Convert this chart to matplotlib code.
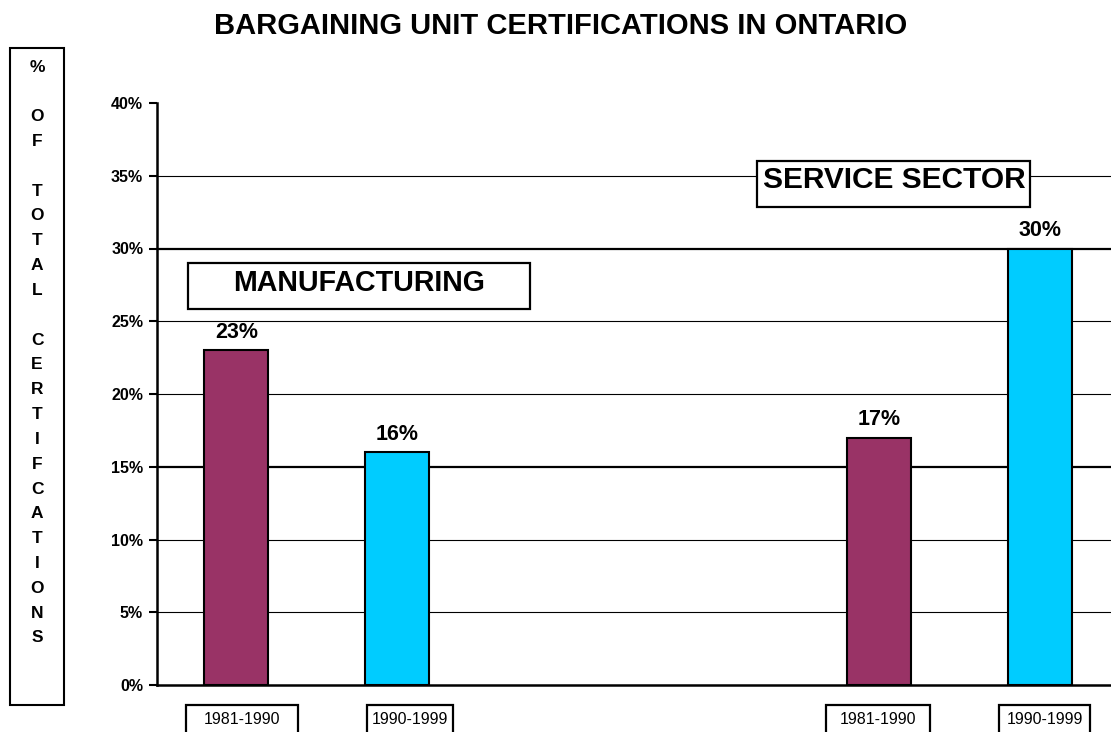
import matplotlib
matplotlib.use("Agg")
import matplotlib.pyplot as plt
from matplotlib.patches import Rectangle

plt.rcParams['font.family'] = ['Liberation Sans', 'DejaVu Sans']

# ---- data ----
sectors = ["MANUFACTURING", "SERVICE SECTOR"]
periods = ["1981-1990", "1990-1999", "1981-1990", "1990-1999"]
values = [23, 16, 17, 30]
bar_colors = ["#993366", "#00CCFF", "#993366", "#00CCFF"]
positions = [0, 1, 4, 5]
yticks = [0, 5, 10, 15, 20, 25, 30, 35, 40]
ylabel_letters = list("%") + [""] + list("OF") + [""] + list("TOTAL") + [""] + list("CERTIFCATIONS")
title = "BARGAINING UNIT CERTIFICATIONS IN ONTARIO"

W, H = 1111, 732
fig = plt.figure(figsize=(W / 100, H / 100), dpi=100)

def fx(px):
    return px / W

def fy(py):
    return 1 - py / H

ax = fig.add_axes([fx(157), fy(685), fx(1111) - fx(157), fy(103) - fy(685)])
ax.bar(positions, values, width=0.4, color=bar_colors, edgecolor="black",
       linewidth=1.5, zorder=3)
ax.set_xlim(-0.494, 5.444)
ax.set_ylim(0, 40)
for v in yticks[1:-1]:
    lw = 1.6 if v in (15, 30) else 0.8
    ax.axhline(v, color="black", linewidth=lw, zorder=1)
ax.set_yticks(yticks)
ax.set_yticklabels([f"{v}%" for v in yticks], fontsize=11.5, fontweight="bold")
ax.tick_params(axis="y", direction="out", length=6, width=1.5, pad=4)
ax.set_xticks([])
for s in ["top", "right"]:
    ax.spines[s].set_visible(False)
for s in ["left", "bottom"]:
    ax.spines[s].set_linewidth(1.8)
    ax.spines[s].set_zorder(4)

for p, v in zip(positions, values):
    ax.annotate(f"{v}%", xy=(p, v), xytext=(0, 5.5), textcoords="offset points",
                ha="center", va="bottom", fontsize=15.5, fontweight="bold")

# title
fig.text(fx(561), fy(26), title, ha="center", va="center",
         fontsize=21, fontweight="bold")

# y label box with stacked letters
fig.patches.append(Rectangle((fx(10), fy(705)), fx(64) - fx(10), fy(48) - fy(705),
                             transform=fig.transFigure, fill=False,
                             edgecolor="black", linewidth=1.5))
step = (638 - 67) / (len(ylabel_letters) - 1)
for i, ch in enumerate(ylabel_letters):
    if ch:
        fig.text(fx(37), fy(67 + i * step), ch, ha="center", va="center",
                 fontsize=12.5, fontweight="bold")

# sector label boxes
def boxed(x0, x1, y0, y1, text, tx, ty, size, bold=True):
    fig.patches.append(Rectangle((fx(x0), fy(y1)), fx(x1) - fx(x0), fy(y0) - fy(y1),
                                 transform=fig.transFigure, facecolor="white",
                                 edgecolor="black", linewidth=1.6, zorder=5))
    fig.text(fx(tx), fy(ty), text, ha="center", va="center", fontsize=size,
             fontweight="bold" if bold else "normal", zorder=6)

boxed(188, 530, 263, 309, sectors[0], 359, 283, 20.6)
boxed(757, 1030, 161, 207, sectors[1], 894, 180, 21.5)

# period label boxes
pbox = [(186, 298), (367, 453), (826, 930), (999, 1090)]
for (x0, x1), lab in zip(pbox, periods):
    boxed(x0, x1, 705, 740, lab, (x0 + x1) / 2, 719, 11.5, bold=False)

fig.savefig("out.png", dpi=100)
